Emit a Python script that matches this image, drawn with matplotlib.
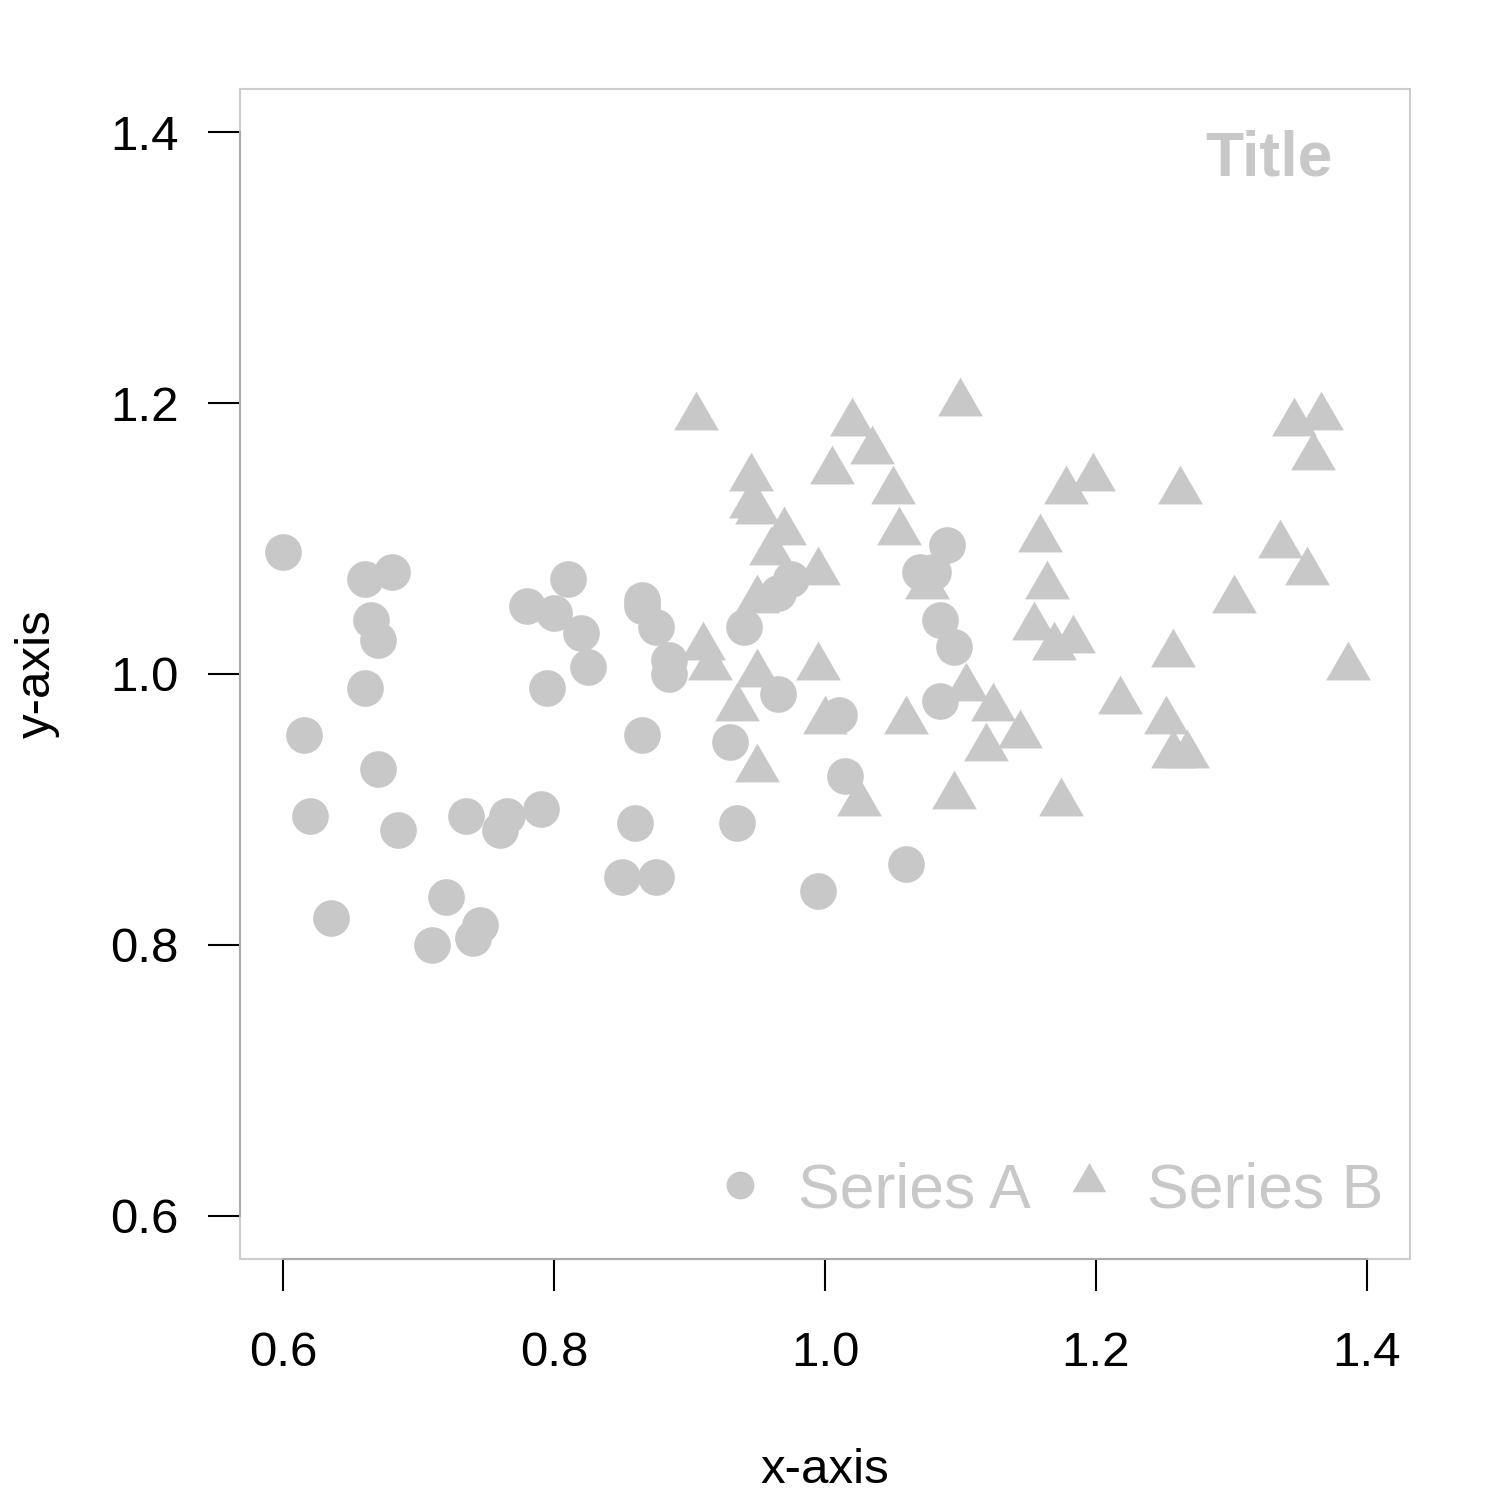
import numpy as np
import matplotlib.pyplot as plt
from matplotlib.path import Path
from matplotlib.patches import Rectangle

plt.rcParams['font.family'] = ['Liberation Sans', 'DejaVu Sans']

# series A (circles)
a_x = [0.600, 0.660, 0.680, 0.665, 0.670, 0.660, 0.615, 0.670, 0.620, 0.685,
       0.735, 0.765, 0.760, 0.790, 0.635, 0.720, 0.745, 0.740, 0.710, 0.810,
       0.780, 0.800, 0.820, 0.825, 0.795, 0.865, 0.865, 0.875, 0.885, 0.885,
       0.940, 0.865, 0.930, 0.965, 0.860, 0.935, 0.850, 0.875, 0.995, 1.060,
       1.015, 1.010, 1.090, 1.070, 1.080, 1.085, 1.095, 1.085, 0.975, 0.965]
a_y = [1.090, 1.070, 1.075, 1.040, 1.025, 0.990, 0.955, 0.930, 0.895, 0.885,
       0.895, 0.895, 0.885, 0.900, 0.820, 0.835, 0.815, 0.805, 0.800, 1.070,
       1.050, 1.045, 1.030, 1.005, 0.990, 1.055, 1.050, 1.035, 1.010, 1.000,
       1.035, 0.955, 0.950, 0.985, 0.890, 0.890, 0.850, 0.850, 0.840, 0.860,
       0.925, 0.970, 1.095, 1.075, 1.075, 1.040, 1.020, 0.980, 1.070, 1.060]

# series B (triangles)
b_x = [1.100, 1.346, 1.366, 1.360, 1.198, 1.178, 1.262, 1.159, 1.164, 1.154,
       1.169, 1.183, 1.336, 1.356, 1.302, 1.257, 1.386, 1.218, 1.252, 1.257,
       1.267, 1.174, 1.095, 1.104, 1.124, 1.144, 1.119, 1.060, 1.075, 1.050,
       1.055, 1.035, 0.905, 1.020, 1.005, 0.945, 0.945, 0.950, 0.970, 0.960,
       0.995, 0.950, 0.910, 0.915, 0.995, 0.950, 0.935, 1.000, 0.950, 1.025]
b_y = [1.200, 1.185, 1.190, 1.160, 1.145, 1.135, 1.135, 1.100, 1.065, 1.035,
       1.020, 1.025, 1.095, 1.075, 1.055, 1.015, 1.005, 0.980, 0.965, 0.940,
       0.940, 0.905, 0.910, 0.990, 0.975, 0.955, 0.945, 0.965, 1.065, 1.135,
       1.105, 1.165, 1.190, 1.185, 1.150, 1.145, 1.125, 1.120, 1.105, 1.090,
       1.075, 1.055, 1.020, 1.005, 1.005, 1.000, 0.975, 0.965, 0.930, 0.905]

ticks = [0.6, 0.8, 1.0, 1.2, 1.4]
grey = '#c8c8c8'

# equilateral triangle centred on its circumcentre, like R's pch 17
tri = Path([(0, 1), (np.sqrt(3) / 2, -0.5), (-np.sqrt(3) / 2, -0.5), (0, 1)],
           [Path.MOVETO, Path.LINETO, Path.LINETO, Path.CLOSEPOLY])

fig = plt.figure(figsize=(15, 15), dpi=100)
ax = fig.add_axes([0.16, 0.16067, 0.78, 0.78])

ax.plot(a_x, a_y, 'o', ms=26.4, color=grey, mec='none')
ax.plot(b_x, b_y, ls='none', marker=tri, ms=37.2, color=grey, mec='none')

ax.set_xlim(0.568, 1.432)
ax.set_ylim(0.568, 1.432)
ax.set_xticks(ticks)
ax.set_yticks(ticks)
ax.set_xticklabels([f'{t:.1f}' for t in ticks])
ax.set_yticklabels([f'{t:.1f}' for t in ticks])
ax.tick_params(length=23, width=1.5, labelsize=35.5, color='black')
ax.tick_params(axis='x', pad=29)
ax.tick_params(axis='y', pad=21)

# light box, darker axis line between first and last tick
ax.add_patch(Rectangle((0, 0), 1, 1, transform=ax.transAxes, fill=False,
                       ec='#cccccc', lw=1.5, clip_on=False, zorder=0))
for s in ['top', 'right']:
    ax.spines[s].set_visible(False)
for s in ['left', 'bottom']:
    ax.spines[s].set_bounds(0.6, 1.4)
    ax.spines[s].set_color('#aaaaaa')
    ax.spines[s].set_linewidth(1.5)

ax.set_xlabel('x-axis', fontsize=35.5, labelpad=52)
ax.set_ylabel('y-axis', fontsize=35.5, labelpad=36)

ax.text(0.934, 0.940, 'Title', transform=ax.transAxes, ha='right',
        va='center', fontsize=45, fontweight='bold', color=grey)

# legend drawn by hand, R style
ax.plot([0.427], [0.063], 'o', ms=20, color=grey, mec='none',
        transform=ax.transAxes, clip_on=False)
ax.text(0.477, 0.058, 'Series A', transform=ax.transAxes, ha='left',
        va='center', fontsize=45, color=grey)
ax.plot([0.726], [0.066], ls='none', marker=tri, ms=28, color=grey,
        mec='none', transform=ax.transAxes, clip_on=False)
ax.text(0.775, 0.058, 'Series B', transform=ax.transAxes, ha='left',
        va='center', fontsize=45, color=grey)

fig.savefig('out.png', dpi=100)
